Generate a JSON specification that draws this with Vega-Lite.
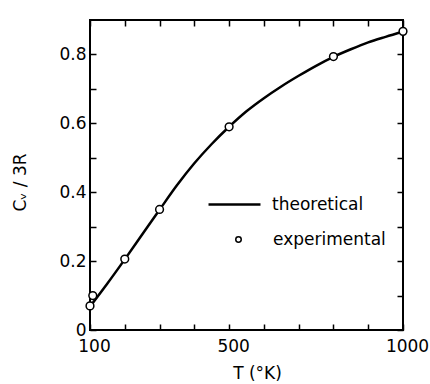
{
  "$schema": "https://vega.github.io/schema/vega-lite/v6.json",
  "width": 313,
  "height": 310,
  "autosize": {"type": "none"},
  "padding": {"left": 90, "top": 20, "right": 27, "bottom": 54},
  "background": "white",
  "config": {
    "view": {"stroke": "black", "strokeWidth": 2},
    "font": "DejaVu Sans",
    "axis": {
      "domain": false,
      "grid": false,
      "labelFlush": false,
      "tickColor": "black",
      "tickWidth": 1.5,
      "tickSize": -6,
      "labelFont": "DejaVu Sans",
      "labelFontSize": 17,
      "labelColor": "black",
      "titleFont": "DejaVu Sans",
      "titleFontSize": 17,
      "titleFontWeight": "normal",
      "titleColor": "black"
    },
    "legend": {
      "labelFont": "DejaVu Sans",
      "labelFontSize": 17,
      "labelColor": "black",
      "padding": 0
    }
  },
  "datasets": {
    "theory": [
      {"T": 100, "C": 0.068},
      {"T": 150, "C": 0.135},
      {"T": 200, "C": 0.205},
      {"T": 250, "C": 0.277},
      {"T": 300, "C": 0.349},
      {"T": 350, "C": 0.42},
      {"T": 400, "C": 0.484},
      {"T": 450, "C": 0.54},
      {"T": 500, "C": 0.59},
      {"T": 550, "C": 0.635},
      {"T": 600, "C": 0.673},
      {"T": 650, "C": 0.707},
      {"T": 700, "C": 0.738},
      {"T": 750, "C": 0.767},
      {"T": 800, "C": 0.793},
      {"T": 850, "C": 0.815},
      {"T": 900, "C": 0.835},
      {"T": 950, "C": 0.851},
      {"T": 1000, "C": 0.866}
    ],
    "experiment": [
      {"T": 100, "C": 0.07},
      {"T": 108, "C": 0.10},
      {"T": 200, "C": 0.206},
      {"T": 300, "C": 0.35},
      {"T": 500, "C": 0.59},
      {"T": 800, "C": 0.794},
      {"T": 1000, "C": 0.867}
    ]
  },
  "layer": [
    {
      "data": {"name": "theory"},
      "mark": {"type": "line", "interpolate": "monotone", "strokeWidth": 2.5, "clip": true},
      "encoding": {
        "x": {
          "field": "T", "type": "quantitative",
          "scale": {"domain": [100, 1000], "nice": false},
          "axis": {
            "orient": "bottom",
            "values": [100, 200, 300, 400, 500, 600, 700, 800, 900, 1000],
            "format": "d",
            "labelExpr": "indexof([100, 500, 1000], datum.value) >= 0 ? datum.label : ''",
            "labelPadding": 14,
            "labelOffset": 4,
            "title": "T (°K)",
            "titleX": 167,
            "titleY": 48,
            "titleBaseline": "alphabetic"
          }
        },
        "y": {
          "field": "C", "type": "quantitative",
          "scale": {"domain": [0, 0.9], "nice": false, "zero": false},
          "axis": {
            "orient": "left",
            "values": [0, 0.1, 0.2, 0.3, 0.4, 0.5, 0.6, 0.7, 0.8],
            "labelExpr": "datum.value == 0 ? '0' : (round(datum.value * 10) % 2 == 0 ? format(datum.value, '.1f') : '')",
            "labelPadding": 10,
            "title": "Cᵥ / 3R",
            "titleX": -65,
            "titleY": 162,
            "titleBaseline": "alphabetic"
          }
        },
        "color": {
          "datum": "theoretical",
          "scale": {"range": ["black"]},
          "legend": {
            "title": null,
            "orient": "none",
            "legendX": 117,
            "legendY": 157,
            "symbolType": "stroke",
            "symbolSize": 2700,
            "symbolStrokeWidth": 2.5,
            "labelOffset": 10
          }
        }
      }
    },
    {
      "data": {"name": "experiment"},
      "mark": {"type": "point", "filled": true, "fill": "white", "stroke": "black", "strokeWidth": 1.5, "size": 60, "opacity": 1},
      "encoding": {
        "x": {
          "field": "T", "type": "quantitative",
          "axis": {
            "orient": "top",
            "values": [100, 200, 300, 400, 500, 600, 700, 800, 900, 1000],
            "labels": false,
            "title": null
          }
        },
        "y": {
          "field": "C", "type": "quantitative",
          "axis": {
            "orient": "right",
            "values": [0, 0.1, 0.2, 0.3, 0.4, 0.5, 0.6, 0.7, 0.8],
            "labels": false,
            "title": null
          }
        },
        "shape": {
          "datum": "experimental",
          "scale": {"range": ["circle"]},
          "legend": {
            "title": null,
            "orient": "none",
            "legendX": 140,
            "legendY": 211,
            "symbolSize": 30,
            "labelOffset": 26,
            "encode": {
              "symbols": {
                "update": {
                  "fill": {"value": "white"},
                  "stroke": {"value": "black"},
                  "strokeWidth": {"value": 1.5},
                  "opacity": {"value": 1},
                  "fillOpacity": {"value": 1},
                  "strokeOpacity": {"value": 1}
                }
              }
            }
          }
        }
      }
    }
  ],
  "resolve": {"axis": {"x": "independent", "y": "independent"}}
}
